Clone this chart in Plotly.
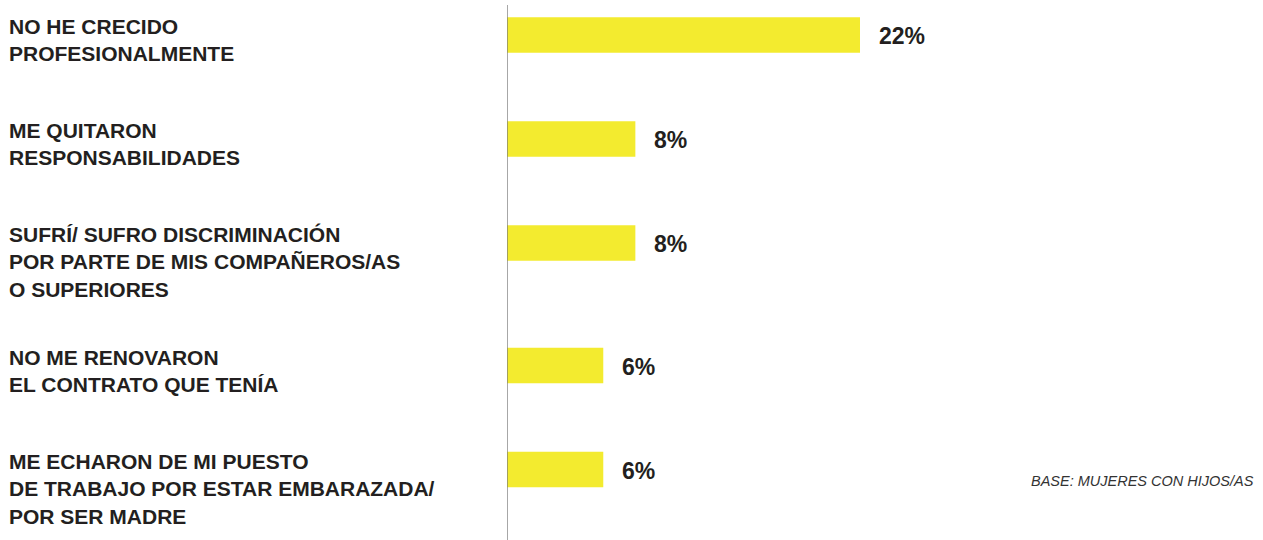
import plotly.graph_objects as go

categories = [
    "NO HE CRECIDO<br>PROFESIONALMENTE",
    "ME QUITARON<br>RESPONSABILIDADES",
    "SUFRÍ/ SUFRO DISCRIMINACIÓN<br>POR PARTE DE MIS COMPAÑEROS/AS<br>O SUPERIORES",
    "NO ME RENOVARON<br>EL CONTRATO QUE TENÍA",
    "ME ECHARON DE MI PUESTO<br>DE TRABAJO POR ESTAR EMBARAZADA/<br>POR SER MADRE",
]
values = [22, 8, 8, 6, 6]
value_labels = ["22%", "8%", "8%", "6%", "6%"]
base_note = "BASE: MUJERES CON HIJOS/AS"

W, H = 1263, 540
L = 507
PW = W - L
ROW = 104.0            # px per row step
FIRST = 35.0           # px of first bar center
BAR_PX = 35.7
X_PX_PER_UNIT = 353.0 / 22.0

# row positions: extra room after labels with more lines
positions = []
p = 0.0
for c in categories:
    positions.append(p)
    nlines = c.count("<br>") + 1
    p += 1.0 + 0.178 * (nlines - 2)

TEXT = "#231f20"
YELLOW = "#f3eb2f"
FONT = "Liberation Sans, Arial, Helvetica, sans-serif"

fig = go.Figure()
fig.add_trace(go.Bar(
    x=values, y=positions, orientation="h",
    marker=dict(color=YELLOW, line=dict(width=0)),
    width=BAR_PX / ROW,
    hoverinfo="skip",
))

annotations = []
for cat, pos in zip(categories, positions):
    annotations.append(dict(
        x=(7 - L) / PW, xref="paper", y=pos, yref="y",
        xanchor="left", yanchor="top", yshift=BAR_PX / 2 + 4,
        text="<b>" + cat + "</b>", showarrow=False, align="left",
        font=dict(family=FONT, size=21, color=TEXT),
    ))
for v, lab, pos in zip(values, value_labels, positions):
    annotations.append(dict(
        x=v, xref="x", y=pos, yref="y",
        xanchor="left", yanchor="middle", xshift=17, yshift=-1,
        text="<b>" + lab + "</b>", showarrow=False,
        font=dict(family=FONT, size=23, color=TEXT),
    ))
annotations.append(dict(
    x=1, xref="paper", y=1 - 481 / H, yref="paper",
    xanchor="right", yanchor="middle", xshift=-7,
    text="<i>" + base_note + "</i>", showarrow=False,
    font=dict(family=FONT, size=14.5, color="#333333"),
))

fig.update_layout(
    width=W, height=H,
    margin=dict(l=L, r=0, t=0, b=0),
    paper_bgcolor="white", plot_bgcolor="white",
    showlegend=False,
    xaxis=dict(range=[0, PW / X_PX_PER_UNIT], visible=False, fixedrange=True),
    yaxis=dict(range=[(H - FIRST) / ROW, -FIRST / ROW], visible=False, fixedrange=True),
    annotations=annotations,
    shapes=[dict(type="line", xref="x", x0=0, x1=0, yref="paper",
                 y0=0, y1=1 - 5 / H, line=dict(color="#777777", width=1.3))],
)

fig.write_html(
    "out.html",
    config={"displayModeBar": False},
    post_script="document.body.style.margin='0px';document.body.style.overflow='hidden';",
)
